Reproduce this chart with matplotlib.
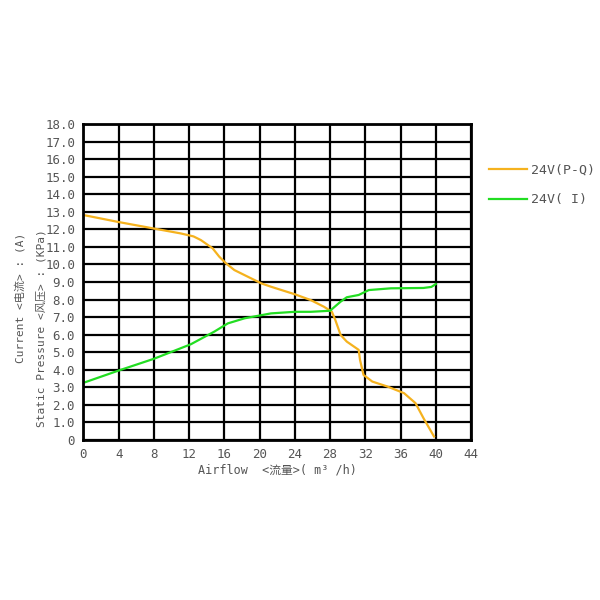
import numpy as np
import matplotlib
matplotlib.use("Agg")
import matplotlib.pyplot as plt

# 글꼴: 숫자는 고정폭, 한자는 CJK 글꼴로 대체
plt.rcParams['font.family'] = ['DejaVu Sans Mono', 'Noto Sans CJK SC']

# 24V(P-Q) 곡선 : 유량(m3/h) - 정압(kPa)
pq_flow = [0, 4, 8, 11.05, 12.5, 13.34, 14.67, 15.43, 16.2, 17.14, 18.67, 20.2, 21.3,
           24, 25.8, 27.3, 28.2, 28.6, 29.2, 29.9, 31.25, 31.4, 31.8, 32.8, 34.5,
           36.4, 37.7, 38.6, 39.8]
pq_pressure = [12.82, 12.42, 12.05, 11.77, 11.6, 11.39, 10.92, 10.44, 10.06, 9.68, 9.3,
               8.92, 8.73, 8.3, 7.97, 7.59, 7.31, 6.83, 5.98, 5.6, 5.13, 4.56, 3.7,
               3.32, 3.04, 2.66, 2.09, 1.24, 0.19]

# 24V(I) 곡선 : 유량 - 전류(A)
cur_flow = [0, 4, 8, 12.2, 14.86, 16.4, 18.3, 21.3, 24, 25.8, 28.0, 29.2, 29.9, 31.25,
            32.4, 34.9, 38.6, 39.5, 40]
cur_current = [3.25, 3.95, 4.62, 5.45, 6.17, 6.64, 6.93, 7.21, 7.3, 7.3, 7.36, 7.88,
               8.13, 8.26, 8.54, 8.64, 8.66, 8.72, 8.88]

x_ticks = list(range(0, 45, 4))
y_ticks = list(range(0, 19))
y_tick_labels = ['0'] + [f'{v}.0' for v in y_ticks[1:]]

fig = plt.figure(figsize=(6, 6), dpi=100)
ax = fig.add_axes([0.139, 0.267, 0.646, 0.526])

ax.plot(pq_flow, pq_pressure, color='#F5B21E', linewidth=1.6, label='24V(P-Q)',
        solid_joinstyle='round')
ax.plot(cur_flow, cur_current, color='#22DD22', linewidth=1.6, label='24V( I)',
        solid_joinstyle='round')

ax.set_xlim(0, 44)
ax.set_ylim(0, 18)
ax.set_xticks(x_ticks)
ax.set_yticks(y_ticks)
ax.set_yticklabels(y_tick_labels)
ax.grid(True, color='black', linewidth=1.6)
ax.set_axisbelow(True)
for sp in ax.spines.values():
    sp.set_linewidth(2)
ax.tick_params(length=0, pad=6, labelsize=9, labelcolor='#555555')

ax.set_xlabel('Airflow  <流量>( m³ /h)', fontsize=8.5, color='#555555', labelpad=2)

fig.text(0.033, 0.395, 'Current <电流> : (A)', rotation=90, ha='center', va='bottom',
         fontsize=8, color='#555555')
fig.text(0.068, 0.288, 'Static Pressure <风压> : (KPa)', rotation=90, ha='center',
         va='bottom', fontsize=8, color='#555555')

fig.legend(loc='upper left', bbox_to_anchor=(0.815, 0.727), frameon=False,
           handlelength=2.9, handletextpad=0.25, labelspacing=1.25, fontsize=9.5,
           labelcolor='#555555', borderaxespad=0, borderpad=0)

fig.savefig('out.png', dpi=100)
